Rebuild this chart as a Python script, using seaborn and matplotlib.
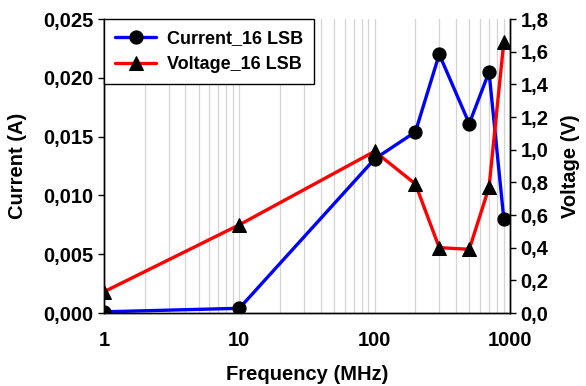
import matplotlib
matplotlib.use("Agg")
import matplotlib.pyplot as plt
import seaborn as sns
import pandas as pd
from matplotlib.ticker import FuncFormatter, FixedLocator, LogLocator, NullFormatter

freq_mhz = [1, 10, 100, 200, 300, 500, 700, 900]
current_a = [0.0001, 0.0004, 0.0131, 0.0154, 0.0220, 0.0161, 0.0205, 0.0080]
voltage_v = [0.13, 0.54, 0.99, 0.79, 0.40, 0.39, 0.77, 1.66]
x_ticks = [1, 10, 100, 1000]

sns.set_style("white")
plt.rcParams['font.family'] = ['Liberation Sans', 'DejaVu Sans']
plt.rcParams['font.weight'] = 'bold'
plt.rcParams['text.color'] = 'black'
plt.rcParams['axes.labelcolor'] = 'black'

df = pd.DataFrame({"freq": freq_mhz, "current": current_a, "voltage": voltage_v})

fig = plt.figure(figsize=(5.86, 3.86), dpi=100)
ax = fig.add_axes([104/586, 1-313/386, (510-104)/586, (313-19)/386])
ax2 = ax.twinx()

sns.lineplot(data=df, x="freq", y="current", ax=ax, color="#0000ff", lw=2.4,
             marker="o", markersize=9.5, markerfacecolor="black", markeredgecolor="black",
             label="Current_16 LSB", legend=False)
sns.lineplot(data=df, x="freq", y="voltage", ax=ax2, color="#ff0000", lw=2.4,
             marker="^", markersize=9.5, markerfacecolor="black", markeredgecolor="black",
             label="Voltage_16 LSB", legend=False)

ax.set_xscale("log")
ax.set_xlim(1, 1000)
ax.set_ylim(0, 0.025)
ax2.set_ylim(0, 1.8)

ax.xaxis.set_major_locator(FixedLocator(x_ticks))
ax.xaxis.set_major_formatter(FuncFormatter(lambda v, p: f"{int(v)}"))
ax.xaxis.set_minor_locator(LogLocator(base=10, subs=range(2, 10)))
ax.xaxis.set_minor_formatter(NullFormatter())
ax.set_yticks([0, 0.005, 0.010, 0.015, 0.020, 0.025])
ax.yaxis.set_major_formatter(FuncFormatter(lambda v, p: f"{v:.3f}".replace(".", ",")))
ax2.set_yticks([0, 0.2, 0.4, 0.6, 0.8, 1.0, 1.2, 1.4, 1.6, 1.8])
ax2.yaxis.set_major_formatter(FuncFormatter(lambda v, p: f"{v:.1f}".replace(".", ",")))

ax.grid(True, axis="x", which="both", color="#d4d4d4", lw=0.9)
ax.set_axisbelow(True)

FS = 14.5
for a in (ax, ax2):
    a.spines["top"].set_visible(False)
    for s in ("left", "right", "bottom"):
        a.spines[s].set_color("black")
        a.spines[s].set_linewidth(1.0)
    a.tick_params(axis="both", which="major", direction="out", length=4, width=1,
                  colors="black", labelsize=FS)
    a.tick_params(axis="x", which="minor", length=0)
ax.tick_params(axis="x", pad=9)
ax.tick_params(axis="y", left=True)
ax2.tick_params(axis="y", right=True)

ax.set_xlabel("Frequency (MHz)", fontsize=FS, fontweight="bold", labelpad=11, color="black")
ax.set_ylabel("Current (A)", fontsize=FS, fontweight="bold", labelpad=12, color="black")
ax2.set_ylabel("Voltage (V)", fontsize=FS, fontweight="bold", labelpad=9, color="black")
for t in ax.get_xticklabels() + ax.get_yticklabels() + ax2.get_yticklabels():
    t.set_fontweight("bold")

h1, l1 = ax.get_legend_handles_labels()
h2, l2 = ax2.get_legend_handles_labels()
leg = ax2.legend(h1 + h2, l1 + l2, loc="upper left", bbox_to_anchor=(0, 1.0),
                 frameon=True, fancybox=False, framealpha=1, edgecolor="black",
                 borderaxespad=0, prop={"size": 13, "weight": "bold"},
                 handlelength=2.3, borderpad=0.6, labelspacing=0.5, handletextpad=0.6)
leg.get_frame().set_linewidth(1.0)

fig.savefig("out.png", dpi=100)
